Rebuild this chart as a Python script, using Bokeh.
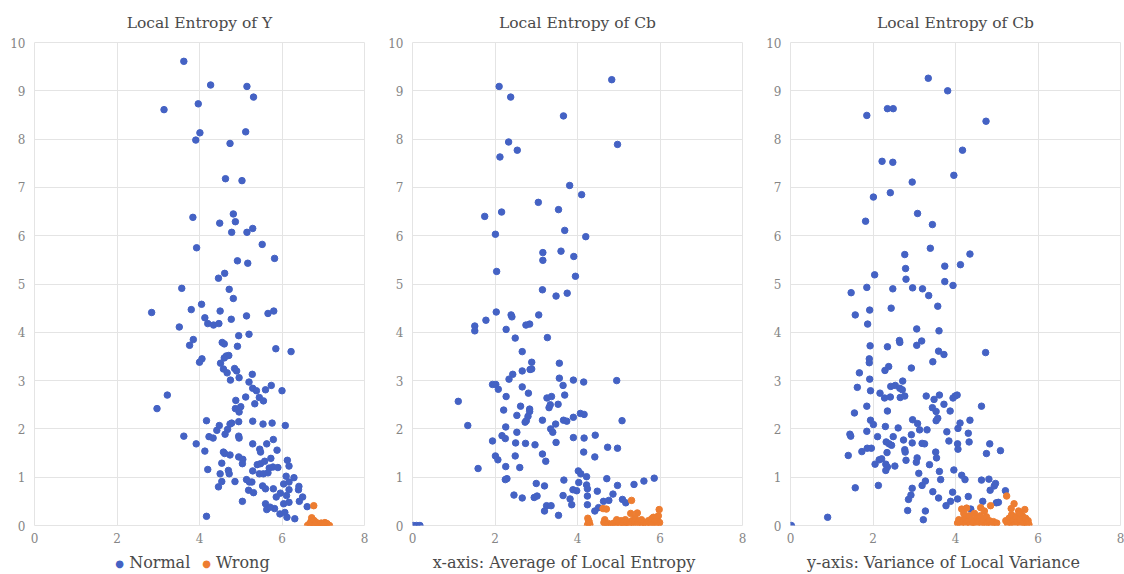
from bokeh.plotting import figure
from bokeh.layouts import row, column
from bokeh.models import FixedTicker, Div
from bokeh.embed import file_html
from bokeh.resources import INLINE

titles = ["Local Entropy of Y", "Local Entropy of Cb", "Local Entropy of Cb"]
bottom_labels = ["", "x-axis: Average of Local Entropy", "y-axis: Variance of Local Variance"]
series_names = ["Normal", "Wrong"]
x_ticks = [0, 2, 4, 6, 8]
y_ticks = [0, 1, 2, 3, 4, 5, 6, 7, 8, 9, 10]

# ---- Panel 1: Local Entropy of Y ----
p1_normal_x = [
    3.62, 4.27, 5.15, 5.31, 3.97, 3.14, 4.01, 5.12, 3.91, 4.74,
    4.63, 5.03, 4.82, 3.84, 4.49, 4.87, 4.78, 5.15, 5.29, 3.93,
    5.52, 5.82, 4.92, 5.17, 4.61, 4.46, 3.57, 4.72,
    4.82, 2.84, 3.80, 4.05, 4.50, 4.13, 5.14, 4.77, 5.66, 5.80,
    4.20, 4.34, 4.47, 3.51, 3.85, 3.76, 4.55, 4.60, 4.95, 5.20,
    4.92, 5.85, 6.22, 4.06, 4.00, 4.65, 4.71, 4.60, 4.51, 4.58,
    4.67, 4.85, 4.90, 4.75, 4.96, 5.28, 5.20, 5.29, 5.38, 5.60,
    5.74, 6.00, 3.22, 2.97, 5.12, 5.45, 5.55, 5.34, 4.88, 4.87,
    4.96, 5.00, 4.17, 4.48, 4.74, 4.78, 4.95, 5.29, 5.54, 5.76,
    6.08, 4.42, 4.68, 3.62, 4.23, 4.33, 4.62, 4.95, 4.96, 3.92,
    5.29, 5.63, 5.79, 4.13, 4.58, 4.61, 4.74, 5.46, 5.48, 5.88,
    4.54, 4.95, 5.05, 5.04, 5.40, 5.48, 5.58, 5.73, 5.69, 5.78,
    5.90, 6.13, 6.17, 4.20, 4.70, 5.29, 5.45, 5.55, 5.66, 4.50,
    4.72, 6.10, 6.29, 5.14, 5.21, 5.27, 4.54, 4.86, 6.04, 6.17,
    6.41, 6.40, 4.46, 5.53, 5.60, 5.79, 5.19, 5.31, 5.96, 5.86,
    6.11, 6.17, 6.50, 6.42, 5.04, 5.60, 6.04, 6.17, 5.63, 5.82,
    5.95, 6.07, 6.12, 6.61, 6.31, 4.17, 5.71,
]
p1_normal_y = [
    9.61, 9.12, 9.09, 8.87, 8.73, 8.61, 8.13, 8.15, 7.98, 7.91,
    7.18, 7.14, 6.45, 6.38, 6.26, 6.29, 6.07, 6.07, 6.15, 5.75,
    5.82, 5.53, 5.48, 5.43, 5.22, 5.12, 4.91, 4.89,
    4.70, 4.41, 4.47, 4.58, 4.44, 4.30, 4.34, 4.27, 4.39, 4.44,
    4.18, 4.15, 4.18, 4.11, 3.85, 3.73, 3.79, 3.76, 3.93, 3.96,
    3.71, 3.66, 3.60, 3.45, 3.38, 3.51, 3.52, 3.47, 3.36, 3.24,
    3.16, 3.25, 3.20, 3.01, 3.06, 3.13, 2.97, 2.84, 2.79, 2.81,
    2.90, 2.79, 2.70, 2.42, 2.66, 2.65, 2.58, 2.52, 2.59, 2.42,
    2.35, 2.46, 2.17, 2.07, 2.10, 2.12, 2.15, 2.16, 2.10, 2.12,
    2.07, 1.97, 1.99, 1.85, 1.84, 1.81, 1.89, 1.85, 1.81, 1.69,
    1.69, 1.69, 1.78, 1.54, 1.52, 1.49, 1.46, 1.58, 1.52, 1.56,
    1.29, 1.42, 1.37, 1.28, 1.26, 1.28, 1.33, 1.39, 1.19, 1.21,
    1.20, 1.35, 1.23, 1.16, 1.14, 1.13, 1.07, 1.07, 1.09, 1.07,
    1.07, 1.02, 0.99, 0.95, 0.90, 0.90, 0.91, 0.91, 0.86, 0.90,
    0.81, 0.74, 0.80, 0.82, 0.76, 0.76, 0.73, 0.68, 0.67, 0.59,
    0.62, 0.74, 0.59, 0.50, 0.50, 0.45, 0.45, 0.48, 0.33, 0.35,
    0.24, 0.27, 0.17, 0.39, 0.14, 0.19, 0.38,
]
p1_wrong_x = [
    6.77, 6.72, 6.74, 6.70, 6.68, 6.65, 6.62, 6.75, 6.78, 6.80,
    6.83, 6.85, 6.88, 6.92, 6.95, 6.98, 7.00, 7.04, 7.06, 7.09,
    7.12, 7.15, 6.90, 6.96, 7.02, 6.71, 6.80,
]
p1_wrong_y = [
    0.41, 0.16, 0.12, 0.08, 0.04, 0.02, 0.00, 0.05, 0.10, 0.03,
    0.06, 0.01, 0.04, 0.02, 0.05, 0.01, 0.03, 0.06, 0.02, 0.04,
    0.01, 0.00, 0.00, 0.00, 0.00, 0.00, 0.00,
]

# ---- Panel 2: Local Entropy of Cb (x-axis quantity) ----
p2_normal_x = [
    4.83, 2.10, 2.38, 3.66, 2.33, 4.97, 2.54, 2.12, 3.81, 4.10,
    3.05, 3.54, 2.16, 1.75, 3.69, 2.01, 4.20, 3.16, 3.60, 3.91,
    3.16, 2.04, 3.95, 3.15,
    3.48, 3.75, 2.03, 1.78, 1.51, 1.51, 2.39, 2.41, 3.06, 2.27,
    2.75, 2.84, 2.49, 3.27, 2.66, 3.56, 2.89, 2.85, 2.89, 2.66,
    2.43, 2.34, 1.94, 2.02, 2.08, 3.56, 3.90, 4.15, 4.95, 3.65,
    1.11, 2.27, 2.66, 2.81, 3.26, 3.37, 3.69, 2.62, 2.21, 2.84,
    2.84, 3.31, 3.34, 3.53, 2.53, 2.80, 2.73, 2.76, 3.15, 3.47,
    3.66, 3.74, 3.90, 4.07, 4.16, 5.08, 1.34, 2.26, 3.35, 3.40,
    2.53, 2.17, 2.25, 1.94, 3.90, 4.16, 4.43, 2.50, 2.74, 2.97,
    3.48, 4.73, 4.97, 4.15, 3.15, 2.49, 2.01, 2.07, 3.23, 4.42,
    1.59, 2.26, 2.60, 4.02, 4.08, 4.22, 2.29, 2.25, 3.67, 4.71,
    5.37, 5.61, 5.86, 3.00, 3.20, 4.03, 4.22, 4.24, 4.97, 3.89,
    3.98, 4.48, 2.46, 2.66, 2.95, 3.02, 3.65, 3.82, 4.24, 4.86,
    4.63, 4.76, 5.09, 5.17, 3.86, 4.24, 4.51, 4.42, 3.25, 3.36,
    3.20, 3.54, 0.02, 0.10, 0.18,
]
p2_normal_y = [
    9.23, 9.09, 8.87, 8.48, 7.94, 7.89, 7.77, 7.63, 7.04, 6.85,
    6.69, 6.54, 6.49, 6.40, 6.11, 6.03, 5.98, 5.65, 5.68, 5.57,
    5.49, 5.26, 5.16, 4.88,
    4.75, 4.81, 4.42, 4.25, 4.13, 4.03, 4.36, 4.32, 4.36, 4.06,
    4.15, 4.17, 3.88, 3.89, 3.60, 3.36, 3.38, 3.23, 3.24, 3.20,
    3.13, 3.03, 2.92, 2.92, 2.82, 3.05, 3.01, 2.97, 3.00, 2.90,
    2.57, 2.67, 2.87, 2.74, 2.64, 2.67, 2.70, 2.47, 2.39, 2.41,
    2.36, 2.44, 2.50, 2.51, 2.28, 2.26, 2.14, 2.17, 2.18, 2.10,
    2.18, 2.16, 2.24, 2.32, 2.30, 2.17, 2.07, 2.04, 2.00, 1.93,
    1.93, 1.86, 1.80, 1.75, 1.82, 1.81, 1.87, 1.71, 1.70, 1.67,
    1.72, 1.62, 1.60, 1.52, 1.48, 1.44, 1.44, 1.36, 1.33, 1.42,
    1.18, 1.22, 1.20, 1.13, 1.07, 1.01, 0.97, 0.95, 0.94, 0.97,
    0.85, 0.92, 0.98, 0.87, 0.82, 0.89, 0.84, 0.76, 0.83, 0.74,
    0.72, 0.71, 0.63, 0.57, 0.58, 0.61, 0.62, 0.55, 0.61, 0.65,
    0.50, 0.52, 0.54, 0.47, 0.43, 0.43, 0.37, 0.30, 0.41, 0.41,
    0.30, 0.21, 0.00, 0.00, 0.00,
]
p2_wrong_x = [
    4.25, 4.27, 4.26, 4.24, 4.30, 4.28, 4.62, 4.70, 4.66, 4.64,
    4.68, 4.72, 4.75, 4.82, 4.88, 4.92, 4.98, 5.02, 5.06, 5.10,
    5.13, 5.16, 5.20, 5.24, 5.29, 5.31, 5.32, 5.36, 5.40, 5.45,
    5.48, 5.52, 5.55, 5.58, 5.62, 5.66, 5.72, 5.76, 5.80, 5.84,
    5.88, 5.90, 5.93, 5.96, 5.98, 5.99, 5.95, 5.78, 5.44, 5.05,
    4.95, 5.27,
]
p2_wrong_y = [
    0.15, 0.10, 0.05, 0.00, 0.02, 0.08, 0.35, 0.34, 0.12, 0.06,
    0.02, 0.00, 0.04, 0.02, 0.05, 0.00, 0.08, 0.03, 0.10, 0.05,
    0.00, 0.12, 0.06, 0.02, 0.25, 0.52, 0.10, 0.04, 0.15, 0.26,
    0.08, 0.03, 0.12, 0.00, 0.06, 0.02, 0.10, 0.05, 0.14, 0.17,
    0.08, 0.02, 0.12, 0.20, 0.33, 0.06, 0.00, 0.00, 0.00, 0.00,
    0.12, 0.00,
]

# ---- Panel 3: Local Entropy of Cb (y-axis quantity) ----
p3_normal_x = [
    3.34, 3.81, 2.35, 2.49, 1.85, 4.74, 4.17, 2.22, 2.48, 3.96,
    2.95, 2.42, 2.01, 3.08, 1.82, 3.44, 3.39, 2.77, 4.35, 2.79,
    3.74, 4.12, 2.04, 2.80, 3.74, 3.94, 1.85,
    2.48, 2.96, 3.20, 3.35, 1.47, 1.57, 1.92, 2.44, 3.57, 1.87,
    3.06, 3.60, 1.93, 2.35, 2.64, 2.65, 3.06, 3.18, 3.59, 3.72,
    4.73, 1.91, 1.91, 3.45, 2.38, 2.29, 2.93, 1.67, 1.92, 2.72,
    1.62, 2.43, 2.54, 2.65, 2.71, 2.66, 2.77, 1.94, 2.17, 2.28,
    2.42, 3.29, 3.48, 3.61, 3.94, 3.99, 4.04, 1.85, 2.35, 3.44,
    3.53, 3.72, 3.87, 4.63, 1.55, 1.94, 2.01, 2.96, 3.08, 3.13,
    3.57, 3.53, 4.11, 4.06, 4.35, 1.44, 1.46, 1.85, 2.30, 2.61,
    3.31, 3.79, 2.11, 2.49, 2.93, 2.74, 2.95, 2.32, 2.39, 2.45,
    3.19, 3.25, 3.84, 4.05, 4.06, 4.33, 4.31, 4.83, 4.75, 5.09,
    1.40, 1.73, 1.86, 1.96, 2.34, 2.77, 2.78, 3.52, 3.54, 2.15,
    2.21, 2.05, 2.31, 2.35, 2.53, 2.80, 3.07, 3.05, 3.37, 2.31,
    3.11, 3.61, 3.96, 4.15, 4.23, 3.64, 3.27, 4.63, 4.81, 4.94,
    4.97, 4.84, 5.21, 1.57, 2.13, 2.95, 3.19, 3.45, 3.93, 2.92,
    2.86, 3.59, 4.05, 4.31, 3.88, 3.77, 4.66, 4.99, 5.04, 4.37,
    2.84, 3.27, 3.22, 0.90, 0.02,
]
p3_normal_y = [
    9.26, 9.00, 8.63, 8.63, 8.49, 8.37, 7.77, 7.54, 7.52, 7.25,
    7.11, 6.89, 6.80, 6.46, 6.30, 6.23, 5.74, 5.61, 5.62, 5.32,
    5.37, 5.40, 5.19, 5.10, 5.05, 4.97, 4.93,
    4.90, 4.92, 4.90, 4.76, 4.82, 4.36, 4.46, 4.50, 4.54, 4.17,
    4.07, 4.03, 3.72, 3.70, 3.83, 3.79, 3.73, 3.82, 3.61, 3.54,
    3.58, 3.45, 3.37, 3.39, 3.29, 3.21, 3.26, 3.16, 3.03, 2.99,
    2.86, 2.88, 2.90, 2.84, 2.81, 2.65, 2.68, 2.79, 2.74, 2.64,
    2.66, 2.68, 2.61, 2.70, 2.64, 2.68, 2.70, 2.47, 2.37, 2.44,
    2.36, 2.51, 2.37, 2.47, 2.33, 2.18, 2.09, 2.19, 2.11, 1.98,
    2.22, 2.17, 2.12, 2.01, 2.18, 1.89, 1.85, 1.95, 2.05, 2.02,
    1.98, 1.94, 1.84, 1.84, 1.88, 1.77, 1.71, 1.73, 1.69, 1.66,
    1.70, 1.69, 1.75, 1.69, 1.58, 1.73, 1.91, 1.69, 1.49, 1.55,
    1.45, 1.53, 1.60, 1.60, 1.51, 1.57, 1.52, 1.52, 1.40, 1.36,
    1.38, 1.27, 1.27, 1.21, 1.23, 1.35, 1.40, 1.31, 1.26, 1.14,
    1.08, 1.12, 1.15, 1.04, 0.95, 0.95, 0.92, 0.94, 0.96, 0.82,
    0.87, 0.73, 0.72, 0.78, 0.83, 0.77, 0.83, 0.70, 0.69, 0.63,
    0.54, 0.57, 0.55, 0.60, 0.50, 0.41, 0.50, 0.47, 0.48, 0.34,
    0.31, 0.30, 0.12, 0.17, 0.00,
]
p3_wrong_x = [
    4.05, 4.08, 4.12, 4.15, 4.18, 4.22, 4.25, 4.27, 4.30, 4.33,
    4.36, 4.40, 4.43, 4.46, 4.50, 4.53, 4.56, 4.60, 4.61, 4.64,
    4.68, 4.72, 4.75, 4.78, 4.82, 4.85, 4.88, 4.92, 4.96, 5.00,
    4.70, 4.20,
    5.24, 5.22, 5.26, 5.30, 5.33, 5.36, 5.40, 5.42, 5.44, 5.47,
    5.50, 5.53, 5.56, 5.59, 5.62, 5.65, 5.68, 5.70, 5.73, 5.76,
    5.78, 5.55, 5.35,
]
p3_wrong_y = [
    0.05, 0.12, 0.02, 0.34, 0.08, 0.15, 0.04, 0.36, 0.10, 0.20,
    0.02, 0.12, 0.06, 0.25, 0.00, 0.15, 0.08, 0.20, 0.37, 0.04,
    0.12, 0.00, 0.18, 0.06, 0.10, 0.41, 0.02, 0.08, 0.00, 0.05,
    0.30, 0.25,
    0.61, 0.10, 0.04, 0.15, 0.06, 0.22, 0.10, 0.45, 0.02, 0.18,
    0.08, 0.30, 0.12, 0.00, 0.20, 0.06, 0.33, 0.15, 0.04, 0.10,
    0.02, 0.25, 0.35,
]

BLUE = "#4462C4"
ORANGE = "#ED7D31"
FONT = "DejaVu Serif"
TEXT = "#4a4a4a"
GRID = "#e4e4e4"

FIG_W = [385, 378, 361]
BORDER_L = [34, 26, 26]
BORDER_R = [21, 21, 4]
FIG_H = 549
DIV_H = 25
TEXT_INDENT = ["0px", "-20px", "0px"]


def pair(xs, ys):
    n = min(len(xs), len(ys))
    return xs[:n], ys[:n]


def make_panel(idx, nx, ny, wx, wy):
    p = figure(
        width=FIG_W[idx], height=FIG_H,
        x_range=(0, 8), y_range=(0, 10),
        output_backend="svg", toolbar_location=None,
        min_border_left=BORDER_L[idx], min_border_right=BORDER_R[idx],
        min_border_top=42, min_border_bottom=24,
        title=titles[idx],
    )
    p.title.align = "center"
    p.title.text_font = FONT
    p.title.text_font_size = "15.5px"
    p.title.text_font_style = "normal"
    p.title.text_color = TEXT
    p.title.standoff = 21

    p.xaxis.ticker = FixedTicker(ticks=x_ticks)
    p.yaxis.ticker = FixedTicker(ticks=y_ticks)
    for ax in (p.xaxis, p.yaxis):
        ax.axis_line_color = None
        ax.major_tick_line_color = None
        ax.minor_tick_line_color = None
        ax.major_tick_out = 0
        ax.major_tick_in = 0
        ax.minor_tick_out = 0
        ax.minor_tick_in = 0
        ax.major_label_text_font = FONT
        ax.major_label_text_font_size = "12px"
        ax.major_label_text_color = "#858585"
    p.yaxis.major_label_standoff = 9
    p.xaxis.major_label_standoff = 7
    p.xgrid.grid_line_color = GRID
    p.ygrid.grid_line_color = GRID
    p.outline_line_color = GRID
    p.background_fill_color = "white"
    p.border_fill_color = "white"

    bx, by = pair(nx, ny)
    ox, oy = pair(wx, wy)
    p.scatter(bx, by, size=6.5, color=BLUE, line_color=BLUE)
    p.scatter(ox, oy, size=6.5, color=ORANGE, line_color=ORANGE)
    return p


def bottom_div(idx):
    if bottom_labels[idx]:
        html = bottom_labels[idx]
    else:
        dot = '<span style="color:{};font-size:10px;vertical-align:1px">&#9679;</span>'
        html = (
            dot.format(BLUE) + f' {series_names[0]}'
            + '<span style="display:inline-block;width:12px"></span>'
            + dot.format(ORANGE) + f' {series_names[1]}'
        )
    return Div(
        text=html, width=FIG_W[idx], height=DIV_H, margin=(0, 0, 0, 0),
        styles={
            "font-family": FONT, "font-size": "16px", "color": TEXT,
            "text-align": "center", "line-height": "28px",
            "white-space": "nowrap", "overflow": "hidden",
            "text-indent": TEXT_INDENT[idx],
        },
    )


panels = [
    make_panel(0, p1_normal_x, p1_normal_y, p1_wrong_x, p1_wrong_y),
    make_panel(1, p2_normal_x, p2_normal_y, p2_wrong_x, p2_wrong_y),
    make_panel(2, p3_normal_x, p3_normal_y, p3_wrong_x, p3_wrong_y),
]
labels_row = row(*[bottom_div(i) for i in range(3)], spacing=0)
layout = column(row(*panels, spacing=0), labels_row, spacing=0)
open("out.html", "w").write(file_html(layout, INLINE))
